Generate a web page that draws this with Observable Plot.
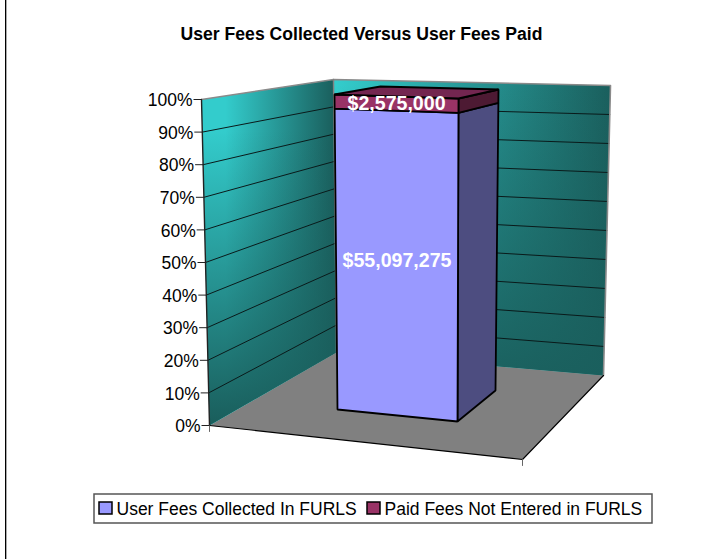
<!DOCTYPE html>
<html>
<head>
<meta charset="utf-8">
<script src="https://cdn.jsdelivr.net/npm/d3@7"></script>
<script src="https://cdn.jsdelivr.net/npm/@observablehq/plot@0.6"></script>
<style>
html,body{margin:0;padding:0;background:#fff;}
svg{display:block;}
</style>
</head>
<body>
<div id="chart"></div>
<script>
const titleText = "User Fees Collected Versus User Fees Paid";
const seriesNames = ["User Fees Collected In FURLS", "Paid Fees Not Entered in FURLS"];
const seriesValues = [55097275, 2575000];
const tickPercents = [0, 10, 20, 30, 40, 50, 60, 70, 80, 90, 100];

const FONT = "'Liberation Sans', Arial, sans-serif";
const total = d3.sum(seriesValues);
const cumulative = d3.cumsum(seriesValues).map(v => v / total * 100);
const stackStart = [0, ...cumulative.slice(0, -1)];

// Perspective frame: each vertical edge runs from its 0% to its 100% position.
const edge = (x0, y0, x1, y1) => pct => ({x: x0 + (x1 - x0) * pct / 100, y: y0 + (y1 - y0) * pct / 100});
const wallFront = edge(209, 425, 201, 99);
const wallCorner = edge(336, 352, 333, 79);
const wallRight = edge(603, 375, 610, 85);
const floorFront = {x: 522, y: 459};
const barFL = edge(337, 409, 334, 94);
const barFR = edge(457, 421, 458, 98);
const barBR = edge(495, 390, 498, 89);
const barBL = edge(418, 378, 380, 86);

const poly = (points, o) => Plot.line(points, {x: "x", y: "y", curve: "linear-closed", stroke: "none", ...o});
const seg = (points, o) => Plot.line(points, {x: "x", y: "y", stroke: "#000", strokeWidth: 1, ...o});

const defs = () => {
  const d = d3.create("svg:defs");
  const grad = (id, x1, y1, x2, y2, stops) => {
    const g = d.append("linearGradient").attr("id", id).attr("gradientUnits", "userSpaceOnUse")
      .attr("x1", x1).attr("y1", y1).attr("x2", x2).attr("y2", y2);
    stops.forEach(([o, c, a]) => g.append("stop").attr("offset", o).attr("stop-color", c).attr("stop-opacity", a));
  };
  const bright = "#33cccc", dark = "#1a5f5d";
  grad("leftH", 225, 0, 333, 0, [[0, bright, 1], [1, dark, 1]]);
  grad("leftV", 0, 130, 0, 420, [[0, dark, 0], [1, dark, 1]]);
  grad("backH", 336, 0, 610, 0, [[0, bright, 1], [1, dark, 1]]);
  grad("backV", 0, 85, 0, 375, [[0, dark, 0], [1, dark, 0.95]]);
  return d.node();
};

const leftWall = [wallFront(0), wallFront(100), wallCorner(100), wallCorner(0)];
const backWall = [wallCorner(0), wallCorner(100), wallRight(100), wallRight(0)];
const floor = [wallFront(0), floorFront, wallRight(0), wallCorner(0)];

const wallGrid = tickPercents.filter(p => p > 0 && p < 100);

const labelNudge = [-2, 0];
const segmentsOnBar = seriesValues.map((v, i) => {
  const a = stackStart[i], b = cumulative[i];
  return {
    front: [barFL(a), barFL(b), barFR(b), barFR(a)],
    side: [barFR(a), barFR(b), barBR(b), barBR(a)],
    label: {
      x: (barFL((a + b) / 2).x + barFR((a + b) / 2).x) / 2,
      y: (barFL((a + b) / 2).y + barFR((a + b) / 2).y) / 2 + labelNudge[i],
      text: "$" + d3.format(",")(v)
    }
  };
});
const frontFills = ["#9999ff", "#993366"];
const sideFills = ["#4d4d80", "#4d1a33"];
const topFill = "#732650";

const tickRows = tickPercents.map(p => ({p, ...wallFront(p)}));

const legendX = [99, 367];
const legendRows = seriesNames.map((name, i) => ({name, i, x: legendX[i]}));

const plot = Plot.plot({
  width: 707, height: 559,
  marginTop: 0, marginRight: 0, marginBottom: 0, marginLeft: 0,
  x: {domain: [0, 707], range: [0, 707], axis: null},
  y: {domain: [0, 559], range: [0, 559], axis: null},
  style: {background: "#fff", fontFamily: FONT, color: "#000"},
  marks: [
    defs,
    // outer chart-area border
    Plot.ruleX([6], {y1: 0, y2: 559, stroke: "#aaa", strokeWidth: 1}),
    Plot.ruleX([5], {y1: 0, y2: 559, stroke: "#000", strokeWidth: 1}),
    // title
    Plot.text([titleText], {x: 361, y: 33.5, text: d => d, fontSize: 17.6, fontWeight: "bold", fill: "#000", fontFamily: FONT}),
    // walls and floor
    poly(floor, {fill: "#808080"}),
    poly(leftWall, {fill: "url(#leftH)"}),
    poly(leftWall, {fill: "url(#leftV)"}),
    poly(backWall, {fill: "url(#backH)"}),
    poly(backWall, {fill: "url(#backV)"}),
    // gridlines
    ...wallGrid.map(p => seg([wallFront(p), wallCorner(p), wallRight(p)], {stroke: "#0a1a1a", strokeWidth: 1})),
    // wall borders
    seg([wallFront(100), wallCorner(100), wallRight(100), wallRight(0)], {stroke: "#8a8a8a", strokeWidth: 1.6}),
    seg([wallCorner(100), wallCorner(0)], {stroke: "#808080", strokeWidth: 1.4}),
    // floor edges and axis
    seg([wallFront(0), floorFront, wallRight(0)], {stroke: "#000", strokeWidth: 1.1}),
    seg([floorFront, {x: floorFront.x, y: floorFront.y + 6}], {stroke: "#666", strokeWidth: 1}),
    seg([wallFront(100), wallFront(0)], {stroke: "#222", strokeWidth: 1.4}),
    seg([wallFront(0), {x: wallFront(0).x, y: wallFront(0).y + 6}], {stroke: "#666", strokeWidth: 1}),
    Plot.link(tickRows, {x1: d => d.x - 8, x2: d => d.x, y1: "y", y2: "y", stroke: "#222", strokeWidth: 1}),
    Plot.text(tickRows, {x: d => d.x - 9, y: d => d.y + 1, text: d => d.p + "%", textAnchor: "end", fontSize: 17.5, fill: "#000", fontFamily: FONT}),
    // bar
    ...segmentsOnBar.flatMap((s, i) => [
      poly(s.side, {fill: sideFills[i], stroke: "#000", strokeWidth: 1.8, strokeLinejoin: "miter"}),
      poly(s.front, {fill: frontFills[i], stroke: "#000", strokeWidth: 1.8, strokeLinejoin: "miter"})
    ]),
    poly([barFL(100), barFR(100), barBR(100), barBL(100)], {fill: topFill, stroke: "#000", strokeWidth: 1.8, strokeLinejoin: "miter"}),
    Plot.text(segmentsOnBar.map(s => s.label), {x: "x", y: "y", text: "text", fontSize: 19.6, fontWeight: "bold", fill: "#fff", fontFamily: FONT}),
    // legend
    Plot.rect([0], {x1: 94, x2: 652, y1: 494, y2: 523, fill: "#fff", stroke: "#555", strokeWidth: 1.5}),
    Plot.rect(legendRows, {x1: d => d.x, x2: d => d.x + 13, y1: 502, y2: 514, fill: d => frontFills[d.i], stroke: "#000", strokeWidth: 1.5}),
    Plot.text(legendRows, {x: d => d.x + 17, y: 508.5, text: "name", textAnchor: "start", fontSize: 17.5, fill: "#000", fontFamily: FONT})
  ]
});
document.getElementById("chart").appendChild(plot);
</script>
</body>
</html>
